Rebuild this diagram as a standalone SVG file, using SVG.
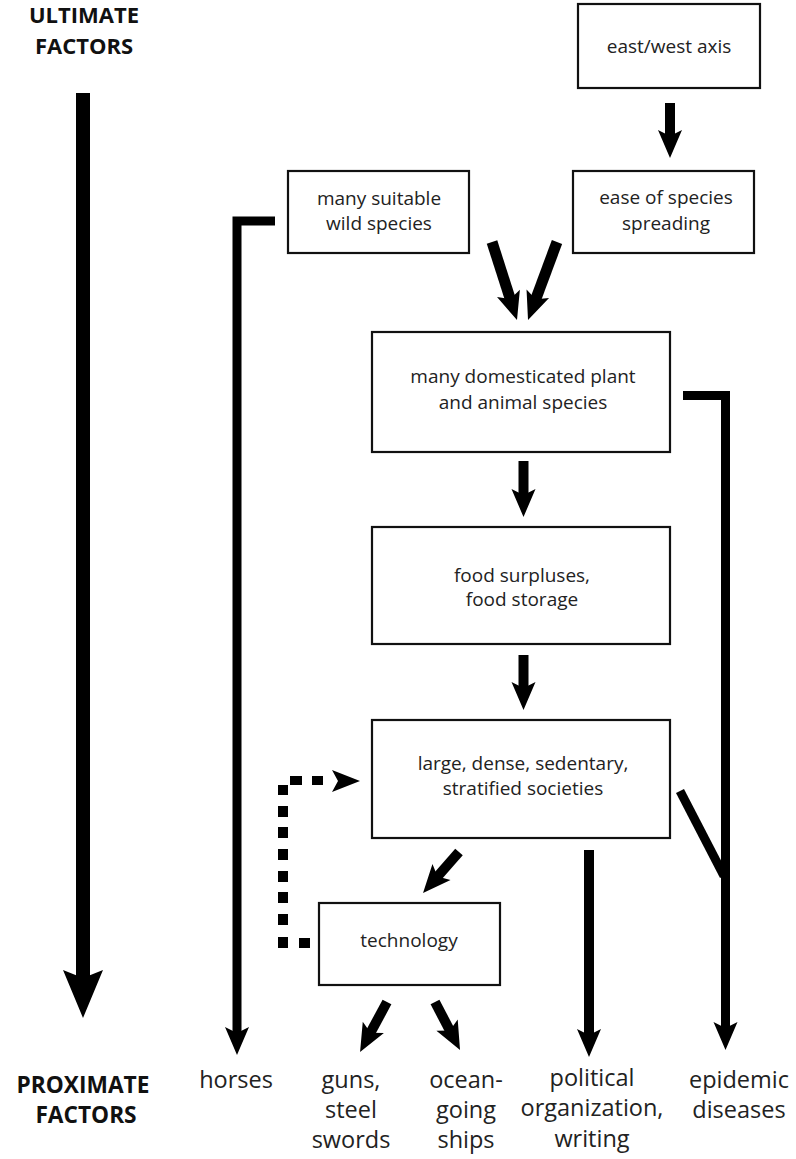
<svg xmlns="http://www.w3.org/2000/svg" width="796" height="1159" viewBox="0 0 796 1159">
<style>
.box{fill:#fff;stroke:#111;stroke-width:2.2}
.t{font-family:"Open Sans","Liberation Sans",sans-serif;font-size:19px;fill:#222;text-anchor:middle}
.lab{font-family:"Open Sans","Liberation Sans",sans-serif;font-size:23.5px;fill:#222;text-anchor:middle}
.hd{font-family:"Open Sans","Liberation Sans",sans-serif;font-size:22px;font-weight:bold;fill:#111;text-anchor:middle}
.sh{fill:none;stroke:#000;stroke-width:10;stroke-linejoin:miter;stroke-linecap:butt}
.dot{fill:#000}
</style>
<defs>
<marker id="ah" markerUnits="userSpaceOnUse" markerWidth="40" markerHeight="40" refX="0" refY="0" orient="auto" overflow="visible">
<path d="M18,0 L-10,-12 L-4,0 L-10,12 Z" fill="#000"/>
</marker>
<marker id="big" markerUnits="userSpaceOnUse" markerWidth="60" markerHeight="60" refX="0" refY="0" orient="auto" overflow="visible">
<path d="M30,0 L-18,-20 L-10,0 L-18,20 Z" fill="#000"/>
</marker>
</defs>

<g id="title-ultimate">
<text class="hd" x="84" y="23">ULTIMATE</text>
<text class="hd" x="84" y="54">FACTORS</text>
</g>
<g id="title-proximate">
<text class="hd" x="83" y="1093" style="font-size:22.7px">PROXIMATE</text>
<text class="hd" x="86" y="1123" style="font-size:22.7px">FACTORS</text>
</g>

<g id="connectors">
<path class="sh" d="M83,93 V988" style="stroke-width:14" marker-end="url(#big)"/>
<path class="sh" d="M670,103 V140" marker-end="url(#ah)"/>
<path class="sh" d="M492,242 L511.5,302.9" style="stroke-width:11" marker-end="url(#ah)"/>
<path class="sh" d="M557,242 L534.3,303.1" style="stroke-width:11" marker-end="url(#ah)"/>
<path class="sh" d="M523.5,461 V499" marker-end="url(#ah)"/>
<path class="sh" d="M523.5,655 V692" marker-end="url(#ah)"/>
<path class="sh" d="M459,852 L434.9,879.5" marker-end="url(#ah)"/>
<path class="sh" d="M589,850 V1039" marker-end="url(#ah)"/>
<path class="sh" d="M683,395.5 H725.5 V1032" style="stroke-width:9" marker-end="url(#ah)"/>
<path class="sh" d="M680,791 L724,876" style="stroke-width:9"/>
<path class="sh" d="M275,221 H237 V1037" style="stroke-width:9" marker-end="url(#ah)"/>
<path class="sh" d="M387,1002 L368.6,1036.2" marker-end="url(#ah)"/>
<path class="sh" d="M435,1002 L451.7,1034" marker-end="url(#ah)"/>
<g id="dotted">
<rect class="dot" x="299" y="938" width="11" height="10"/>
<rect class="dot" x="278" y="937" width="10" height="11"/>
<rect class="dot" x="278" y="914" width="10" height="11"/>
<rect class="dot" x="278" y="892" width="10" height="11"/>
<rect class="dot" x="278" y="871" width="10" height="11"/>
<rect class="dot" x="278" y="849" width="10" height="11"/>
<rect class="dot" x="278" y="827" width="10" height="11"/>
<rect class="dot" x="278" y="806" width="10" height="11"/>
<rect class="dot" x="278" y="785" width="10" height="10"/>
<rect class="dot" x="290" y="776" width="12" height="9"/>
<rect class="dot" x="312" y="776" width="11" height="9"/>
<path d="M360,781 L332,770 L338,781 L332,792 Z" fill="#000"/>
</g>
</g>

<g id="n-eastwest">
<rect class="box" x="578" y="4" width="182" height="84"/>
<text class="t" x="669" y="53">east/west axis</text>
</g>
<g id="n-wild">
<rect class="box" x="288" y="171" width="181" height="82"/>
<text class="t" x="379" y="205">many suitable</text>
<text class="t" x="379" y="230">wild species</text>
</g>
<g id="n-ease">
<rect class="box" x="573" y="171" width="181" height="82"/>
<text class="t" x="666" y="204">ease of species</text>
<text class="t" x="666" y="230">spreading</text>
</g>
<g id="n-domesticated">
<rect class="box" x="372" y="332" width="298" height="120"/>
<text class="t" x="523" y="383">many domesticated plant</text>
<text class="t" x="523" y="409">and animal species</text>
</g>
<g id="n-food">
<rect class="box" x="372" y="527" width="298" height="117"/>
<text class="t" x="522" y="582">food surpluses,</text>
<text class="t" x="522" y="606">food storage</text>
</g>
<g id="n-societies">
<rect class="box" x="372" y="720" width="298" height="118"/>
<text class="t" x="523" y="770">large, dense, sedentary,</text>
<text class="t" x="523" y="795">stratified societies</text>
</g>
<g id="n-technology">
<rect class="box" x="319" y="903" width="181" height="82"/>
<text class="t" x="409" y="947">technology</text>
</g>

<g id="p-horses">
<text class="lab" x="236" y="1088">horses</text>
</g>
<g id="p-guns">
<text class="lab" x="351" y="1088">guns,</text>
<text class="lab" x="351" y="1118">steel</text>
<text class="lab" x="351" y="1148">swords</text>
</g>
<g id="p-ships">
<text class="lab" x="466" y="1088">ocean-</text>
<text class="lab" x="466" y="1118">going</text>
<text class="lab" x="466" y="1148">ships</text>
</g>
<g id="p-political">
<text class="lab" x="592" y="1086">political</text>
<text class="lab" x="592" y="1116">organization,</text>
<text class="lab" x="592" y="1147">writing</text>
</g>
<g id="p-epidemic">
<text class="lab" x="739" y="1088">epidemic</text>
<text class="lab" x="739" y="1118">diseases</text>
</g>
</svg>
